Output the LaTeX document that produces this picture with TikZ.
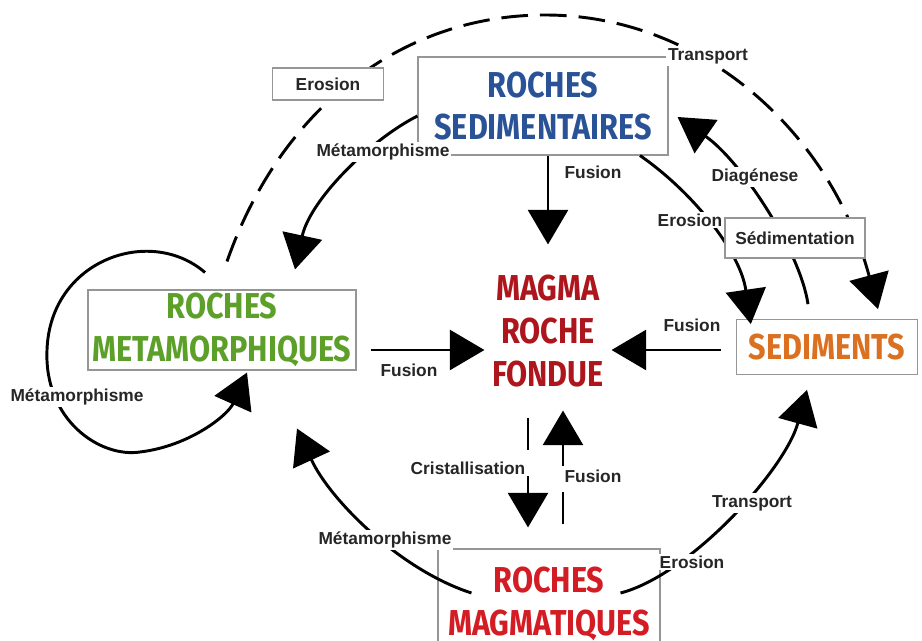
\documentclass[tikz,border=0pt]{standalone}
\usepackage{fontspec}
\setmainfont{Liberation Sans}
\newfontfamily\titrefont[FakeStretch=0.85]{Fira Sans}
\usetikzlibrary{arrows.meta}

\definecolor{azulsed}{RGB}{42,82,150}
\definecolor{verdemeta}{RGB}{92,160,42}
\definecolor{vermmagma}{RGB}{172,22,28}
\definecolor{laranjased}{RGB}{218,112,32}
\definecolor{vermmag}{RGB}{212,28,36}
\definecolor{cinzaborda}{RGB}{150,150,150}

\tikzset{
  caixa/.style={draw=cinzaborda, line width=0.8pt, fill=white, inner sep=0pt,
    align=center, font=\titrefont\bfseries\fontsize{27}{32}\selectfont},
  rotulo/.style={fill=white, inner sep=1.5pt, text=black!85,
    font=\bfseries\fontsize{13}{15}\selectfont},
  rotulocaixa/.style={rotulo, draw=cinzaborda, line width=0.8pt},
  seta/.style={line width=2.2pt, -{Triangle[width=30pt,length=26pt]}},
  tracejada/.style={seta, dash pattern=on 24pt off 20pt},
  arco/.style={seta, dash pattern=on 20pt off 9pt},
}

\begin{document}
\begin{tikzpicture}[x=0.75pt, y=-0.75pt]
  \useasboundingbox (0,0) rectangle (922,641);

  % Rochas
  \node[caixa, text=azulsed, minimum width=187.5pt, minimum height=73.5pt]
    (sed) at (543,106) {ROCHES\\SEDIMENTAIRES};
  \node[caixa, text=verdemeta, minimum width=201pt, minimum height=60pt]
    (meta) at (222,330) {ROCHES\\METAMORPHIQUES};
  \node[caixa, text=laranjased, minimum width=136pt, minimum height=41pt]
    (sedim) at (827,347) {SEDIMENTS};
  \node[caixa, text=vermmag, minimum width=166.5pt, minimum height=82.5pt]
    (mag) at (549,604) {ROCHES\\MAGMATIQUES};
  \node[caixa, draw=none, fill=none, text=vermmagma, minimum width=94.5pt, minimum height=97.5pt]
    (magma) at (548,331) {MAGMA\\ROCHE\\FONDUE};

  % Fusao
  \draw[seta] ([shift={(5,0)}]sed.south) -- ([shift={(0,-21)}]magma.north);
  \draw[seta] ([shift={(14,20)}]meta.east) -- ([shift={(0,19)}]magma.west);
  \draw[seta] ([shift={(-15,3)}]sedim.west) -- ([shift={(0,19)}]magma.east);
  \draw[tracejada] ([shift={(-20,21)}]magma.south) -- ([shift={(-21,-21)}]mag.north);
  \draw[tracejada] ([shift={(14,-24)}]mag.north) -- ([shift={(15,14)}]magma.south);

  % Metamorfismo
  \draw[seta] ([shift={(-17,-17)}]meta.north) .. controls (150,225) and (50,260) .. (47,350)
    .. controls (44,420) and (100,458) .. (140,452)
    .. controls (190,446) and (228,415) .. ([shift={(25,2)}]meta.south);
  \draw[seta] ([shift={(0,10)}]sed.west) .. controls (370,140) and (310,200) .. ([shift={(73,-20)}]meta.north);
  \draw[seta] ([shift={(34,-11)}]mag.west) .. controls (400,570) and (330,500) .. ([shift={(75,58)}]meta.south);

  % Erosao, transporte, sedimentacao
  \draw[arco] ([shift={(5,-28)}]meta.north) .. controls (280,110) and (400,15) .. (545,15)
    .. controls (700,15) and (830,130) .. ([shift={(51,-10)}]sedim.north);
  \draw[seta] ([shift={(97,0)}]sed.south) .. controls (690,190) and (740,250) .. ([shift={(15,5)}]sedim.north west);
  \draw[seta] ([shift={(-19,-15)}]sedim.north) .. controls (800,250) and (740,160) .. ([shift={(9,11)}]sed.east);
  \draw[seta] ([shift={(-40,-11)}]mag.east) .. controls (690,575) and (785,470) .. ([shift={(-20,15)}]sedim.south);

  % Rotulos
  \node[rotulo] (fus1) at (593,172) {Fusion};
  \node[rotulo] (fus2) at (409,370) {Fusion};
  \node[rotulo] (fus3) at (692,325) {Fusion};
  \node[rotulo] (fus4) at (593,476) {Fusion};
  \node[rotulo] (crist) at (468,468) {Cristallisation};
  \node[rotulo] (meta1) at (77,397) {Métamorphisme};
  \node[rotulo] (meta2) at (383,152) {Métamorphisme};
  \node[rotulo] (meta3) at (385,540) {Métamorphisme};
  \node[rotulocaixa, minimum width=83pt, minimum height=24pt] (eros1) at (328,84) {Erosion};
  \node[rotulo] (transp1) at (708,56) {Transport};
  \node[rotulo] (eros2) at (690,220) {Erosion};
  \node[rotulo] (diag) at (755,177) {Diagénese};
  \node[rotulocaixa, minimum width=105pt, minimum height=30pt] (sedm) at (795,238) {Sédimentation};
  \node[rotulo] (eros3) at (692,562) {Erosion};
  \node[rotulo] (transp2) at (752,503) {Transport};
\end{tikzpicture}
\end{document}
